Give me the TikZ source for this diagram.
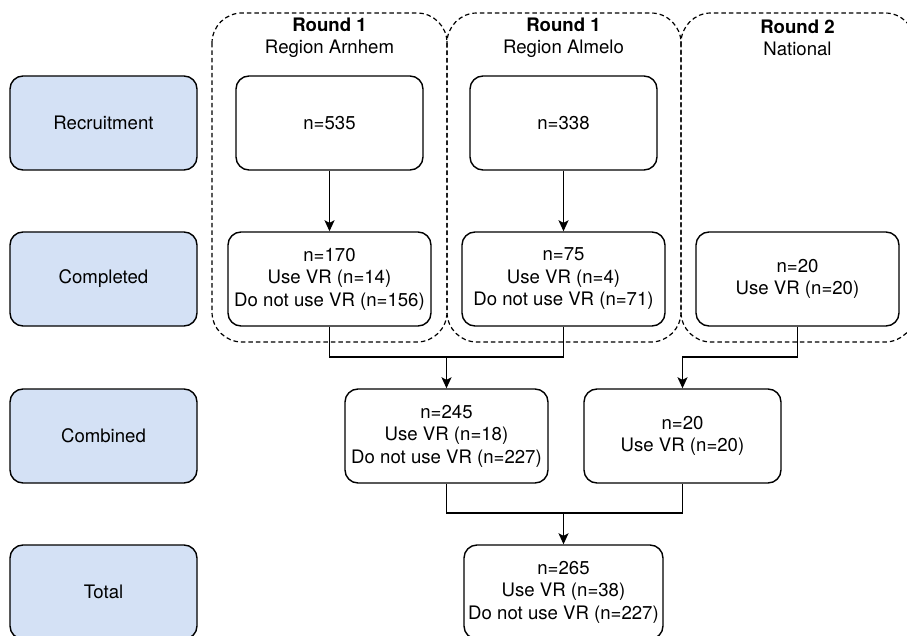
\documentclass[tikz,border=0pt]{standalone}
\usepackage{fontspec}
\setmainfont{TeX Gyre Heros}
\usetikzlibrary{arrows.meta}
\definecolor{phasefill}{HTML}{D4E1F5}
\tikzset{
  box/.style={draw=black, line width=1.4pt, rounded corners=13pt, fill=white,
    inner sep=0pt, align=center, minimum height=94pt,
    font=\fontsize{18.6}{22.5}\selectfont},
  phase/.style={box, fill=phasefill, minimum width=187pt},
  group/.style={draw=black, line width=1.2pt, dash pattern=on 4.5pt off 3pt, rounded corners=30pt},
  grouptitle/.style={inner sep=0pt, align=center, font=\fontsize{18.6}{22}\selectfont},
  conn/.style={line width=1.4pt},
  arr/.style={conn, -{Stealth[length=11pt,width=10pt,inset=2.5pt]}}
}
\begin{document}
\begin{tikzpicture}[x=1pt,y=-1pt]
\useasboundingbox (0,0) rectangle (907,636);
\clip (0,0) rectangle (907,636);
% group containers
\draw[group] (212,13) rectangle (447,342);
\draw[group] (447,13) rectangle (681,342);
\draw[group] (681,13) rectangle (915,342);
\node[grouptitle] (t1) at (329.5,38) {\textbf{Round 1}\\Region Arnhem};
\node[grouptitle] (t2) at (563.5,38) {\textbf{Round 1}\\Region Almelo};
\node[grouptitle] (t3) at (797.5,38) {\textbf{Round 2}\\National};
% phase labels
\node[phase] (recr) at (103.5,123) {Recruitment};
\node[phase] (comp) at (103.5,279) {Completed};
\node[phase] (comb) at (103.5,436) {Combined};
\node[phase] (tot) at (103.5,592) {Total};
% boxes
\node[box, minimum width=187pt] (n535) at (329.5,123) {n=535};
\node[box, minimum width=187pt] (n338) at (563.5,123) {n=338};
\node[box, minimum width=203pt] (n170) at (329.5,279) {n=170\\Use VR (n=14)\\Do not use VR (n=156)};
\node[box, minimum width=203pt] (n75) at (563.5,279) {n=75\\Use VR (n=4)\\Do not use VR (n=71)};
\node[box, minimum width=203pt] (nat) at (797.5,279) {n=20\\Use VR (n=20)};
\node[box, minimum width=203pt] (n245) at (446.5,436) {n=245\\Use VR (n=18)\\Do not use VR (n=227)};
\node[box, minimum width=197pt] (c20) at (682.5,436) {n=20\\Use VR (n=20)};
\node[box, minimum width=199pt] (total) at (563.5,592) {n=265\\Use VR (n=38)\\Do not use VR (n=227)};
% junctions
\coordinate (j1) at (446.5,357);
\coordinate (j2) at (682.5,357);
\coordinate (j3) at (563.5,513);
% connectors
\draw[arr] (n535) -- (n170);
\draw[arr] (n338) -- (n75);
\draw[conn] (n170.south) |- (j1);
\draw[conn] (n75.south) |- (j1);
\draw[arr] (j1) -- (n245.north);
\draw[arr] (nat.south) |- (j2) -- (c20.north);
\draw[conn] (n245.south) |- (j3);
\draw[conn] (c20.south) |- (j3);
\draw[arr] (j3) -- (total.north);
\end{tikzpicture}
\end{document}
